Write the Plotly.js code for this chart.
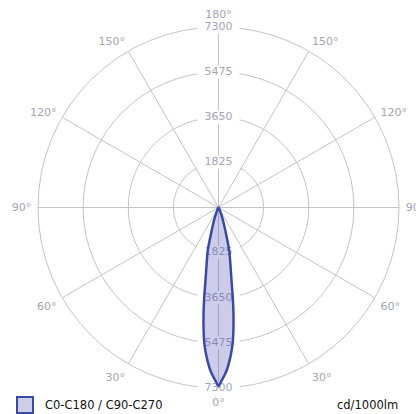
<!DOCTYPE html>
<html>
<head>
<meta charset="utf-8">
<script src="https://cdn.plot.ly/plotly-3.0.1.min.js"></script>
<style>html,body{margin:0;padding:0;background:#fff;}#chart{width:416px;height:414px;}</style>
</head>
<body>
<div id="chart"></div>
<script>
// Luminous intensity distribution (cd/1000lm), C0-C180 / C90-C270 (identical curves)
const gamma = [0, 1, 2, 3, 4, 5, 6, 7, 8, 9, 10, 12, 14, 16, 18, 20, 25, 30, 40, 90];
const intensity = [7230, 7000, 6800, 6560, 6250, 5900, 5500, 4950, 4350, 3700, 3050, 2300, 1800, 1100, 700, 450, 150, 50, 10, 0];
const seriesName = 'C0-C180 / C90-C270';
const radialTicks = [1825, 3650, 5475, 7300];
const angleTicks = [0, 30, 60, 90, 120, 150, 180, 210, 240, 270, 300, 330];
const angleLabels = ['0°', '30°', '60°', '90°', '120°', '150°', '180°', '150°', '120°', '90°', '60°', '30°'];
const unitLabel = 'cd/1000lm';

// build the symmetric curve (C0 side and C180 side)
const th = [], rr = [];
for (let i = gamma.length - 1; i >= 0; i--) { th.push(-gamma[i]); rr.push(intensity[i]); }
for (let i = 1; i < gamma.length; i++) { th.push(gamma[i]); rr.push(intensity[i]); }

const labR = radialTicks.concat(radialTicks);
const labT = radialTicks.map(() => 180).concat(radialTicks.map(() => 0));
const labTxt = labR.map(String);

const font = 'DejaVu Sans, Verdana, sans-serif';
const tickColor = '#a4a4b4';
const gridColor = '#c4c4c4';

const traces = [
  {
    type: 'scatterpolar', r: labR, theta: labT, text: labTxt,
    mode: 'markers+text', textposition: 'middle center',
    textfont: {family: font, size: 11, color: tickColor},
    marker: {symbol: 'line-ew-open', size: 30, color: '#ffffff', line: {color: '#ffffff', width: 13}},
    showlegend: false, hoverinfo: 'skip', cliponaxis: false
  },
  {
    type: 'scatterpolar', r: rr, theta: th, mode: 'lines', fill: 'toself',
    fillcolor: 'rgba(70,70,180,0.27)',
    line: {color: '#3a4aa2', width: 2.5, shape: 'spline', smoothing: 0.6},
    showlegend: false, name: seriesName
  },
  {
    type: 'scatterpolar', r: [null], theta: [null], mode: 'markers', name: seriesName,
    marker: {symbol: 'square', size: 16, color: '#cdcde9', line: {color: '#3a4aa2', width: 2}},
    showlegend: true
  }
];

const layout = {
  width: 416, height: 414,
  margin: {l: 0, r: 0, t: 0, b: 0, autoexpand: false},
  paper_bgcolor: '#ffffff',
  showlegend: true,
  font: {family: font, size: 11, color: tickColor},
  polar: {
    domain: {x: [38/416, 399/416], y: [26/414, 387/414]},
    bgcolor: '#ffffff',
    radialaxis: {
      range: [0, 7300], tickvals: radialTicks, showticklabels: false, ticks: '',
      showline: false, showgrid: true, gridcolor: gridColor, gridwidth: 1, angle: 90, layer: 'below traces'
    },
    angularaxis: {
      rotation: -90, direction: 'clockwise', tickvals: angleTicks, ticktext: angleLabels,
      ticks: 'outside', ticklen: 4, tickcolor: 'rgba(0,0,0,0)', showline: true, linecolor: gridColor, linewidth: 1,
      showgrid: true, gridcolor: gridColor, gridwidth: 1,
      tickfont: {family: font, size: 11, color: tickColor}, layer: 'below traces'
    }
  },
  legend: {
    x: 0.012, y: 0.022, xanchor: 'left', yanchor: 'middle', bgcolor: 'rgba(0,0,0,0)',
    font: {family: font, size: 11.5, color: '#111111'}, itemsizing: 'trace'
  },
  annotations: [{
    text: unitLabel, xref: 'paper', yref: 'paper', x: 400/416, y: 0.022,
    xanchor: 'right', yanchor: 'middle', showarrow: false,
    font: {family: font, size: 11.5, color: '#111111'}
  }]
};

Plotly.newPlot('chart', traces, layout, {staticPlot: true, displayModeBar: false});
</script>
</body>
</html>
